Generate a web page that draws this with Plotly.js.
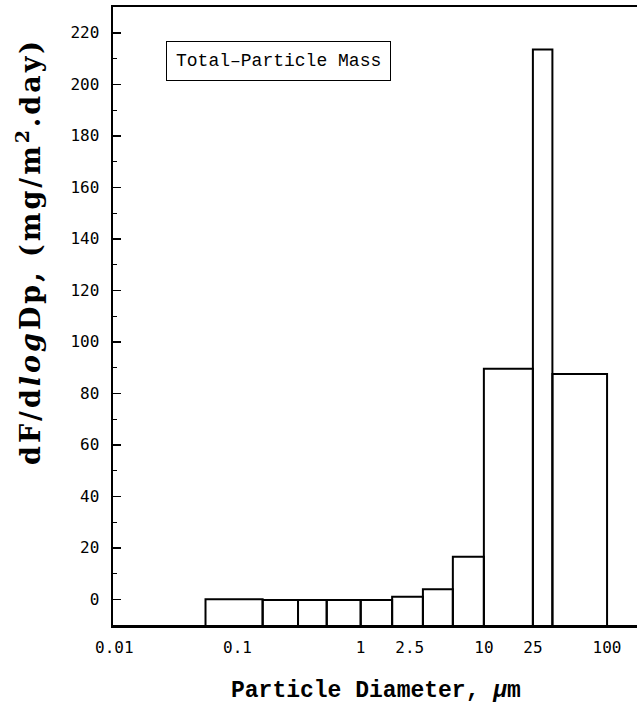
<!DOCTYPE html>
<html>
<head>
<meta charset="utf-8">
<script src="https://cdn.plot.ly/plotly-3.0.1.min.js"></script>
<style>html,body{margin:0;padding:0;background:#fff;}</style>
</head>
<body>
<div id="chart" style="width:638px;height:708px;"></div>
<script>
// Bin edges (particle diameter, µm) and bar heights dF/dlogDp
const binLower = [0.055, 0.16, 0.31, 0.53, 1.0, 1.8, 3.2, 5.6, 10, 25, 36];
const binUpper = [0.16, 0.31, 0.53, 1.0, 1.8, 3.2, 5.6, 10, 25, 36, 100];
const values   = [0.0, -0.3, -0.3, -0.3, -0.3, 1.0, 3.9, 16.5, 89.5, 213.5, 87.5];
const xTickVals = [0.01, 0.1, 1, 2.5, 10, 25, 100];
const xTickText = ['0.01', '0.1', '1', '2.5', '10', '25', '100'];
const yTickVals = [0, 20, 40, 60, 80, 100, 120, 140, 160, 180, 200, 220];
const yMin = -10, yMax = 230;

const px = [], py = [];
for (let i = 0; i < values.length; i++) {
  px.push(binLower[i], binLower[i], binUpper[i], binUpper[i], null);
  py.push(yMin, values[i], values[i], yMin, null);
}

const L = 113, R = 1, T = 7, B = 83, W = 638, H = 708;
const pw = W - L - R, ph = H - T - B;
const fx = p => (p - L) / pw;
const fy = p => (H - B - p) / ph;

const traces = [{
  type: 'scatter', mode: 'lines', x: px, y: py,
  line: {color: '#000', width: 2}, hoverinfo: 'skip', showlegend: false,
  connectgaps: false
}];

const layout = {
  width: W, height: H,
  margin: {l: L, r: R, t: T, b: B, pad: 0},
  paper_bgcolor: '#fff', plot_bgcolor: '#fff',
  showlegend: false,
  xaxis: {
    type: 'log', range: [Math.log10(0.00976), Math.log10(175)],
    tickvals: xTickVals, ticktext: xTickText,
    ticks: '', showgrid: false, zeroline: false,
    showline: true, linecolor: '#000', linewidth: 2.5, mirror: true,
    tickfont: {family: 'DejaVu Sans Mono', size: 16, color: '#000'},
    ticklabelstandoff: 6
  },
  yaxis: {
    range: [yMin, yMax],
    tickvals: yTickVals, ticktext: yTickVals.map(String),
    ticks: 'inside', ticklen: 8, tickwidth: 1.5, tickcolor: '#000',
    minor: {dtick: 10, ticks: 'inside', ticklen: 4, tickwidth: 1, tickcolor: '#000'},
    showgrid: false, zeroline: false,
    showline: true, linecolor: '#000', linewidth: 2.5,
    tickfont: {family: 'DejaVu Sans Mono', size: 16, color: '#000'},
    ticklabelstandoff: 8
  },
  annotations: [
    {
      xref: 'paper', yref: 'paper', x: fx(166), y: fy(41), xanchor: 'left', yanchor: 'top',
      text: 'Total\u2013Particle Mass', showarrow: false,
      font: {family: 'Liberation Mono', size: 18, color: '#000'},
      bordercolor: '#000', borderwidth: 1, borderpad: 9, bgcolor: '#fff'
    },
    {
      xref: 'paper', yref: 'paper', x: fx(376), y: fy(691), xanchor: 'center', yanchor: 'middle',
      text: '<b>Particle Diameter, <i>\u03bc</i>m</b>', showarrow: false,
      font: {family: 'Liberation Mono', size: 23, color: '#000'}
    },
    {
      xref: 'paper', yref: 'paper', x: fx(28), y: fy(252), xanchor: 'center', yanchor: 'middle',
      textangle: -90,
      text: '<b>dF/d<i>log</i>Dp, (mg/m<sup>2</sup>.day)</b>', showarrow: false,
      font: {family: 'DejaVu Serif', size: 27, color: '#000'}
    }
  ]
};

Plotly.newPlot('chart', traces, layout, {staticPlot: true, displayModeBar: false}).then(() => {
  const a = document.querySelectorAll('.annotation-text');
  if (a[2]) a[2].style.letterSpacing = '3px';
});
</script>
</body>
</html>
